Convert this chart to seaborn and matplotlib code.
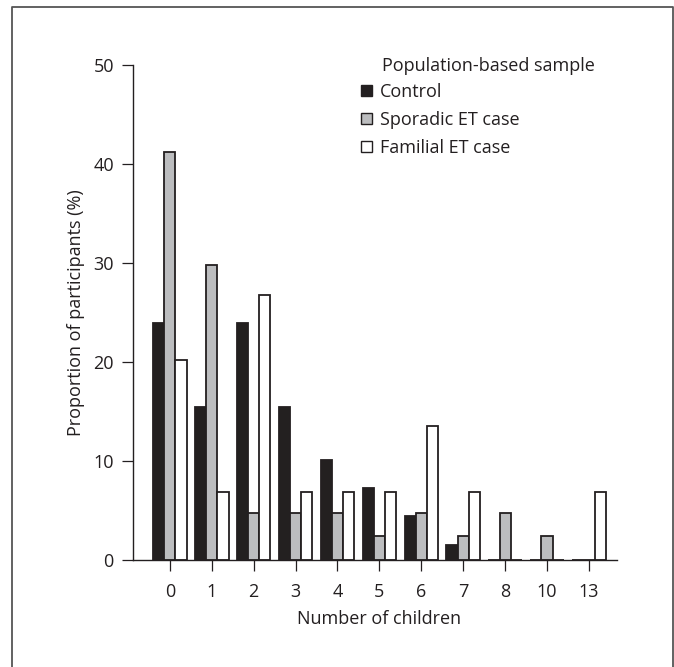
import pandas as pd
import seaborn as sns
import matplotlib.pyplot as plt
from matplotlib.lines import Line2D
from matplotlib.patches import Patch

# values (% of participants)
children = ["0", "1", "2", "3", "4", "5", "6", "7", "8", "10", "13"]
control = [23.9, 15.5, 23.9, 15.5, 10.1, 7.3, 4.4, 1.5, 0, 0, 0]
sporadic = [41.2, 29.8, 4.7, 4.7, 4.7, 2.4, 4.7, 2.4, 4.7, 2.4, 0]
familial = [20.2, 6.9, 26.8, 6.9, 6.9, 6.9, 13.5, 6.9, 0, 0, 6.9]
groups = ["Control", "Sporadic ET case", "Familial ET case"]
colors = ["#231f20", "#bcbdbf", "#ffffff"]

df = pd.DataFrame({"children": children, "Control": control,
                   "Sporadic ET case": sporadic, "Familial ET case": familial})
df = df.melt(id_vars="children", var_name="group", value_name="pct")

sns.set_style("ticks")
plt.rcParams["font.family"] = ["Open Sans", "DejaVu Sans"]
ink = "#231f20"
plt.rcParams.update({"text.color": ink, "axes.labelcolor": ink,
                     "xtick.color": ink, "ytick.color": ink,
                     "axes.edgecolor": ink})
fs = 13

fig = plt.figure(figsize=(6.74, 6.67), dpi=100)
ax = fig.add_axes([133 / 674, 107 / 667, 484 / 674, 495 / 667])

sns.barplot(data=df, x="children", y="pct", hue="group", hue_order=groups,
            order=children, palette=colors, edgecolor=ink, linewidth=1.3,
            errorbar=None, width=0.8, legend=False, ax=ax)

ax.set_ylim(0, 50)
ax.set_xlim(-0.88, 10.67)
ax.set_yticks(range(0, 51, 10))
sns.despine(ax=ax)
ax.spines["left"].set_linewidth(1.0)
ax.spines["bottom"].set_linewidth(1.0)
ax.tick_params(axis="both", length=7.8, width=0.9, labelsize=fs)
ax.tick_params(axis="x", pad=9)
ax.tick_params(axis="y", pad=6)
ax.set_xlabel("Number of children", fontsize=fs)
ax.set_ylabel("Proportion of participants (%)", fontsize=fs)
ax.xaxis.set_label_coords(0.509, -0.101)
ax.yaxis.set_label_coords(-0.099, 0.5)

handles = [Patch(facecolor=c, edgecolor=ink, linewidth=1.0) for c in colors]
ax.legend(handles, groups, loc="upper left", frameon=False, fontsize=fs,
          bbox_to_anchor=(361 / 674, 1 - 83 / 667), bbox_transform=fig.transFigure,
          handlelength=0.6, handleheight=0.6, handletextpad=0.45,
          labelspacing=0.55, borderpad=0, borderaxespad=0)
fig.text(382 / 674, 1 - 66 / 667, "Population-based sample", fontsize=fs,
         va="center", ha="left")

# outer frame of the figure panel (no bottom edge)
x0, x1, yt = 12 / 674, 673 / 674, 1 - 6.5 / 667
fig.add_artist(Line2D([x0, x0, x1, x1], [0, yt, yt, 0], transform=fig.transFigure,
                      color="#555555", linewidth=1.3))

fig.savefig("out.png", dpi=100)
